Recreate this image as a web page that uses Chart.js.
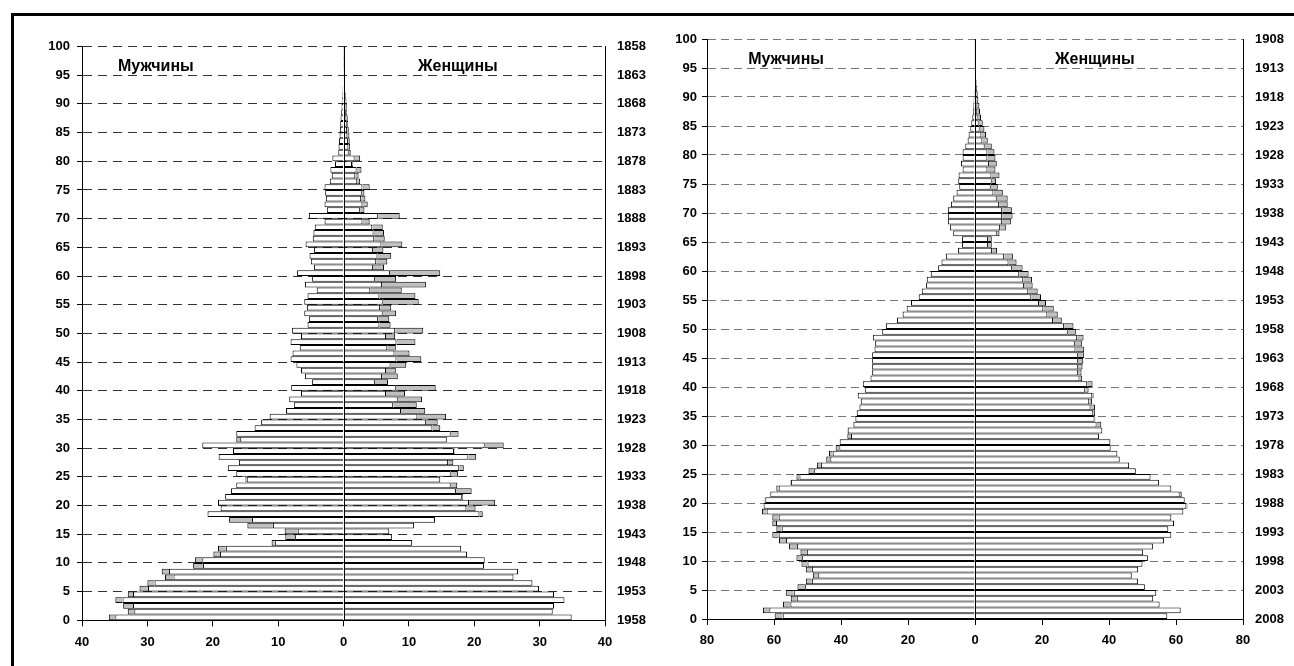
<!DOCTYPE html>
<html lang="ru">
<head>
<meta charset="utf-8">
<title>Половозрастные пирамиды 1958 и 2008</title>
<script src="https://cdn.jsdelivr.net/npm/chart.js@4.4.1/dist/chart.umd.min.js"></script>
<style>
    html, body { margin: 0; padding: 0; background: #fff; }
    body { width: 1294px; height: 666px; position: relative; overflow: hidden; }
    .frame {
        position: absolute; left: 11px; top: 13px; right: 0; bottom: 0;
        border-left: 3px solid #000; border-top: 3px solid #000;
    }
    .chart-box { position: absolute; top: 16px; height: 650px; }
    #box1958 { left: 14px; width: 646px; }
    #box2008 { left: 660px; width: 634px; }
</style>
</head>
<body>
<div class="frame"></div>
<div class="chart-box" id="box1958"><canvas id="pyramid1958"></canvas></div>
<div class="chart-box" id="box2008"><canvas id="pyramid2008"></canvas></div>
<script>
// ages 0..99, one bar per age
const ages = [
    0, 1, 2, 3, 4, 5, 6, 7, 8, 9,
    10, 11, 12, 13, 14, 15, 16, 17, 18, 19,
    20, 21, 22, 23, 24, 25, 26, 27, 28, 29,
    30, 31, 32, 33, 34, 35, 36, 37, 38, 39,
    40, 41, 42, 43, 44, 45, 46, 47, 48, 49,
    50, 51, 52, 53, 54, 55, 56, 57, 58, 59,
    60, 61, 62, 63, 64, 65, 66, 67, 68, 69,
    70, 71, 72, 73, 74, 75, 76, 77, 78, 79,
    80, 81, 82, 83, 84, 85, 86, 87, 88, 89,
    90, 91, 92, 93, 94, 95, 96, 97, 98, 99
];

// 1958
const men1958 = [
    35.9, 33.0, 33.7, 34.9, 33.0, 31.2, 30.0, 27.3, 27.8, 23.0,
    22.7, 19.9, 19.2, 11.0, 8.9, 9.0, 14.7, 17.5, 20.8, 18.8,
    19.2, 18.1, 17.2, 16.4, 15.0, 16.4, 17.7, 16.0, 19.1, 16.9,
    21.6, 16.4, 16.4, 13.6, 12.6, 11.3, 8.8, 7.6, 8.3, 6.5,
    8.0, 4.8, 5.9, 6.5, 7.2, 8.1, 7.8, 6.7, 8.1, 6.5,
    7.9, 5.5, 5.3, 6.0, 5.6, 6.0, 5.5, 4.1, 5.9, 4.8,
    7.1, 4.5, 5.0, 5.2, 4.5, 5.8, 4.7, 4.6, 4.4, 2.9,
    5.3, 2.55, 2.9, 2.7, 2.8, 2.9, 2.1, 1.8, 2.0, 1.3,
    1.7, 0.8, 0.75, 0.7, 0.6, 0.55, 0.5, 0.45, 0.35, 0.3,
    0.25, 0.2, 0.15, 0.1, 0.08, 0.05, 0.03, 0.03, 0.03, 0.03
];
const women1958 = [
    34.9, 32.0, 32.2, 33.8, 32.2, 29.9, 28.9, 26.0, 26.7, 21.5,
    21.6, 18.9, 18.0, 10.5, 7.4, 7.0, 10.8, 14.0, 21.3, 20.2,
    23.2, 18.3, 19.6, 17.4, 14.8, 17.5, 18.4, 16.8, 20.3, 17.0,
    24.5, 15.8, 17.6, 14.8, 14.4, 15.7, 12.5, 11.2, 12.0, 9.4,
    14.1, 6.8, 8.3, 8.0, 9.6, 11.9, 10.1, 8.0, 11.0, 7.9,
    12.2, 7.2, 7.0, 8.05, 7.3, 11.5, 11.0, 8.9, 12.6, 8.05,
    14.8, 6.2, 6.7, 7.3, 6.1, 9.0, 6.3, 6.2, 6.0, 4.0,
    8.6, 3.2, 3.7, 3.35, 3.2, 4.0, 2.55, 2.3, 2.75, 1.45,
    2.55, 1.1, 1.0, 0.95, 0.9, 0.8, 0.7, 0.65, 0.55, 0.5,
    0.45, 0.35, 0.25, 0.2, 0.15, 0.1, 0.06, 0.06, 0.06, 0.06
];

// 2008
const men2008 = [
    59.8, 63.3, 57.3, 55.0, 56.5, 53.0, 50.5, 48.4, 50.5, 51.8,
    53.3, 52.1, 55.5, 58.5, 60.5, 59.3, 60.5, 60.5, 63.6, 63.1,
    62.8, 61.1, 59.3, 55.1, 53.3, 49.7, 47.2, 44.4, 43.6, 41.6,
    40.4, 38.1, 38.1, 36.3, 35.7, 35.3, 34.5, 34.1, 35.0, 32.9,
    33.5, 31.2, 30.7, 30.7, 30.7, 30.7, 30.0, 29.8, 30.5, 27.7,
    26.6, 23.3, 21.6, 20.4, 19.1, 16.8, 15.9, 14.6, 14.4, 13.2,
    11.0, 10.0, 8.7, 5.1, 3.9, 3.9, 6.5, 7.5, 8.1, 8.1,
    8.1, 7.2, 6.5, 5.5, 4.7, 5.0, 4.9, 3.7, 4.2, 3.7,
    3.7, 2.9, 2.2, 1.9, 1.4, 1.1, 0.8, 0.6, 0.5, 0.4,
    0.3, 0.2, 0.15, 0.1, 0.08, 0.05, 0.03, 0.03, 0.03, 0.03
];
const women2008 = [
    57.4, 61.4, 55.1, 53.2, 54.1, 50.7, 48.7, 46.8, 48.7, 50.0,
    51.6, 50.2, 53.1, 56.4, 58.6, 57.7, 59.4, 58.6, 62.2, 63.4,
    62.6, 61.7, 58.6, 54.9, 52.4, 48.0, 46.0, 43.2, 42.5, 40.5,
    40.5, 37.0, 38.0, 37.7, 35.9, 35.8, 35.8, 34.9, 35.4, 33.9,
    35.1, 32.0, 31.8, 32.1, 32.3, 32.6, 32.6, 31.9, 32.4, 30.1,
    29.4, 25.9, 24.7, 23.5, 21.2, 19.7, 18.7, 17.2, 17.0, 16.0,
    14.2, 12.4, 11.3, 6.6, 5.0, 5.0, 7.3, 9.2, 10.7, 11.2,
    11.0, 9.75, 9.75, 8.3, 6.8, 6.3, 7.3, 6.1, 6.5, 6.1,
    5.8, 5.0, 3.8, 3.3, 2.8, 2.3, 1.8, 1.5, 1.3, 1.0,
    0.8, 0.6, 0.45, 0.3, 0.2, 0.15, 0.08, 0.08, 0.08, 0.08
];

// tick labels
const ageTicks = ['0', '5', '10', '15', '20', '25', '30', '35', '40', '45', '50',
    '55', '60', '65', '70', '75', '80', '85', '90', '95', '100'];
const years1958 = ['1958', '1953', '1948', '1943', '1938', '1933', '1928', '1923', '1918', '1913', '1908',
    '1903', '1898', '1893', '1888', '1883', '1878', '1873', '1868', '1863', '1858'];
const years2008 = ['2008', '2003', '1998', '1993', '1988', '1983', '1978', '1973', '1968', '1963', '1958',
    '1953', '1948', '1943', '1938', '1933', '1928', '1923', '1918', '1913', '1908'];
const xTicks1958 = ['40', '30', '20', '10', '0', '10', '20', '30', '40'];
const xTicks2008 = ['80', '60', '40', '20', '0', '20', '40', '60', '80'];
const sexNames = ['Мужчины', 'Женщины'];

Chart.defaults.font.family = '"Liberation Sans", Arial, sans-serif';
Chart.defaults.font.size = 13;
Chart.defaults.font.weight = 'bold';
Chart.defaults.color = '#000';

// white part = what both sexes have, grey part = surplus of one sex
function pyramidDatasets(men, women) {
    const common = men.map((m, i) => Math.min(m, women[i]));
    const seg = (vals, sign) => ages.map((a, i) => ({ x: vals[i] > 0 ? sign * vals[i] : null, y: a + 0.5 }));
    const menExtra = men.map((m, i) => m - common[i]);
    const womenExtra = women.map((w, i) => w - common[i]);
    return [
        { label: 'm', data: seg(common, -1), backgroundColor: '#ffffff' },
        { label: 'm+', data: seg(menExtra, -1), backgroundColor: '#c0c0c0' },
        { label: 'f', data: seg(common, 1), backgroundColor: '#ffffff' },
        { label: 'f+', data: seg(womenExtra, 1), backgroundColor: '#c0c0c0' }
    ];
}

const centerLine = {
    id: 'centerLine',
    afterDatasetsDraw(chart) {
        const { ctx, chartArea, scales } = chart;
        const x = Math.round(scales.x.getPixelForValue(0)) + 0.5;
        ctx.save();
        ctx.strokeStyle = '#000';
        ctx.lineWidth = 1;
        ctx.beginPath();
        ctx.moveTo(x, chartArea.top);
        ctx.lineTo(x, chartArea.bottom);
        ctx.stroke();
        ctx.restore();
    }
};

const sexLabels = {
    id: 'sexLabels',
    afterDraw(chart, args, opts) {
        const { ctx, scales } = chart;
        ctx.save();
        ctx.font = 'bold 16px "Liberation Sans", Arial, sans-serif';
        ctx.fillStyle = '#000';
        ctx.textAlign = 'center';
        ctx.textBaseline = 'middle';
        opts.items.forEach(it => {
            ctx.fillText(it.text, scales.x.getPixelForValue(it.x), scales.y.getPixelForValue(it.y));
        });
        ctx.restore();
    }
};

function buildPyramid(canvasId, men, women, cfg) {
    return new Chart(document.getElementById(canvasId), {
        type: 'bar',
        data: { datasets: pyramidDatasets(men, women) },
        options: {
            indexAxis: 'y',
            responsive: true,
            maintainAspectRatio: false,
            animation: false,
            layout: { padding: { top: cfg.padTop, left: 0, right: 0, bottom: 0 } },
            datasets: {
                bar: {
                    barPercentage: 1,
                    categoryPercentage: 1,
                    borderColor: '#000',
                    borderWidth: 1,
                    inflateAmount: 0
                }
            },
            plugins: {
                legend: { display: false },
                tooltip: { enabled: false },
                sexLabels: { items: cfg.labels }
            },
            scales: {
                x: {
                    type: 'linear',
                    stacked: true,
                    min: -cfg.xMax,
                    max: cfg.xMax,
                    ticks: {
                        stepSize: cfg.xStep,
                        padding: 8,
                        maxRotation: 0,
                        callback: (v, i) => cfg.xTicks[i]
                    },
                    grid: { drawOnChartArea: false, drawTicks: true, tickLength: 6, tickColor: '#000' },
                    border: { color: '#000', width: 1 },
                    afterFit: s => { s.height = cfg.xHeight; }
                },
                y: {
                    type: 'linear',
                    position: 'left',
                    stacked: true,
                    offset: false,
                    min: 0,
                    max: 100,
                    ticks: { stepSize: 5, padding: cfg.yPad, callback: (v, i) => ageTicks[i] },
                    grid: { offset: false, color: cfg.gridColor, lineWidth: 1, tickColor: '#000', tickLength: 5 },
                    border: { color: '#000', width: 1, dash: cfg.dash },
                    afterFit: s => { s.width = cfg.leftWidth; }
                },
                years: {
                    type: 'linear',
                    position: 'right',
                    offset: false,
                    min: 0,
                    max: 100,
                    ticks: { stepSize: 5, padding: 12, callback: (v, i) => cfg.years[i] },
                    grid: { offset: false, display: false, drawTicks: false },
                    border: { color: '#000', width: 1 },
                    afterFit: s => { s.width = cfg.rightWidth; }
                }
            }
        },
        plugins: [centerLine, sexLabels]
    });
}

buildPyramid('pyramid1958', men1958, women1958, {
    padTop: 30.5, leftWidth: 68, rightWidth: 55, xHeight: 45.7, yPad: 7,
    xMax: 40, xStep: 10, xTicks: xTicks1958, years: years1958,
    gridColor: '#333333', dash: [9, 6],
    labels: [
        { text: sexNames[0], x: -28.7, y: 96.5 },
        { text: sexNames[1], x: 17.5, y: 96.5 }
    ]
});

buildPyramid('pyramid2008', men2008, women2008, {
    padTop: 23, leftWidth: 47, rightWidth: 51, xHeight: 47, yPad: 5,
    xMax: 80, xStep: 20, xTicks: xTicks2008, years: years2008,
    gridColor: '#777777', dash: [8, 5],
    labels: [
        { text: sexNames[0], x: -56.4, y: 96.4 },
        { text: sexNames[1], x: 35.8, y: 96.4 }
    ]
});
</script>
</body>
</html>
